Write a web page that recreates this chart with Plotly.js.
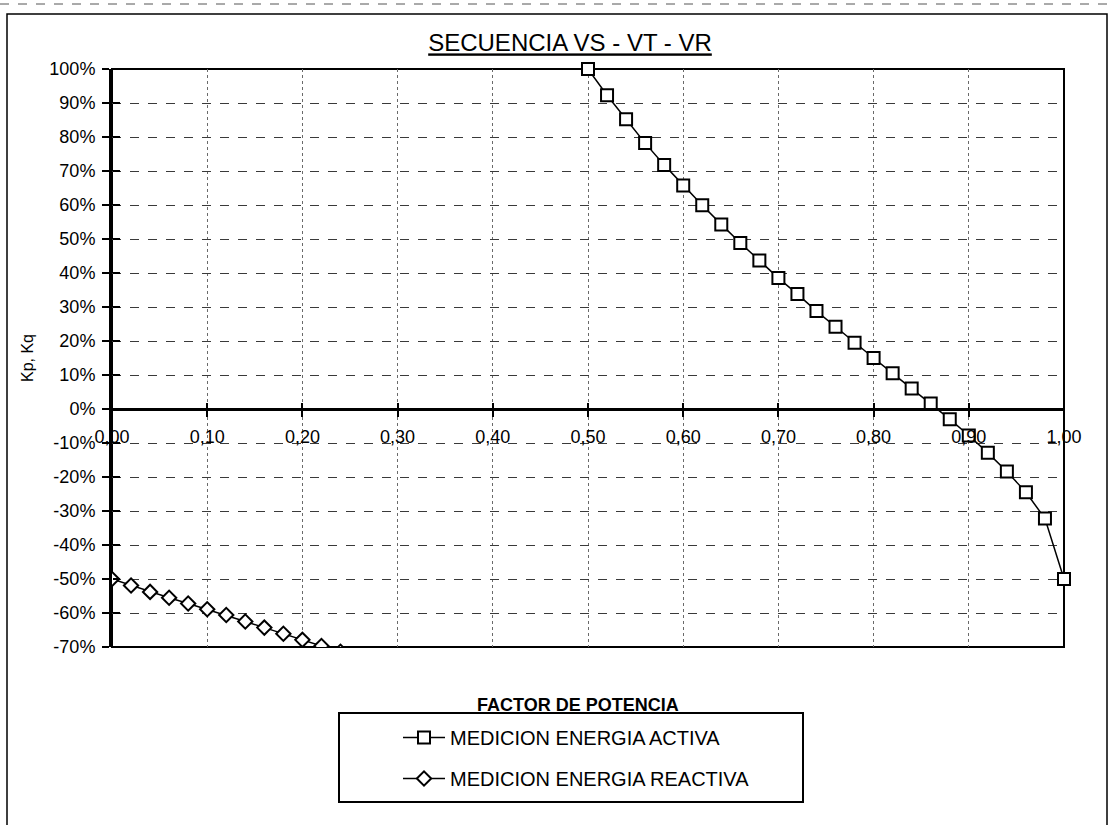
<!DOCTYPE html>
<html>
<head>
<meta charset="utf-8">
<script src="https://cdn.plot.ly/plotly-3.0.1.min.js"></script>
<style>
  html, body { margin: 0; padding: 0; background: #ffffff; }
  #chart { width: 1113px; height: 825px; }
</style>
</head>
<body>
<div id="chart"></div>
<script>
// Factor de potencia y error de medición (%) para cada serie
const pfActiva = [0.50, 0.52, 0.54, 0.56, 0.58, 0.60, 0.62, 0.64, 0.66, 0.68,
                  0.70, 0.72, 0.74, 0.76, 0.78, 0.80, 0.82, 0.84, 0.86, 0.88,
                  0.90, 0.92, 0.94, 0.96, 0.98, 1.00];
const kpActiva = [100.0, 92.3, 85.2, 78.2, 71.8, 65.7, 59.9, 54.3, 48.8, 43.7,
                  38.5, 33.8, 28.8, 24.2, 19.5, 15.0, 10.5, 6.0, 1.6, -3.0,
                  -7.8, -12.9, -18.4, -24.5, -32.2, -50.0];

const pfReactiva = [0.00, 0.02, 0.04, 0.06, 0.08, 0.10, 0.12, 0.14, 0.16, 0.18,
                    0.20, 0.22, 0.24, 0.26];
const kqReactiva = [-50.0, -51.9, -53.8, -55.5, -57.2, -58.9, -60.6, -62.5, -64.3, -66.1,
                    -67.9, -69.7, -71.4, -73.3];

const nombreActiva = 'MEDICION ENERGIA ACTIVA';
const nombreReactiva = 'MEDICION ENERGIA REACTIVA';

// Ejes
const xTickVals = [0.0, 0.1, 0.2, 0.3, 0.4, 0.5, 0.6, 0.7, 0.8, 0.9, 1.0];
const xTickText = ['0,00', '0,10', '0,20', '0,30', '0,40', '0,50', '0,60', '0,70', '0,80', '0,90', '1,00'];
const yTickVals = [-70, -60, -50, -40, -30, -20, -10, 0, 10, 20, 30, 40, 50, 60, 70, 80, 90, 100];
const yTickText = ['-70%', '-60%', '-50%', '-40%', '-30%', '-20%', '-10%', '0%', '10%', '20%',
                   '30%', '40%', '50%', '60%', '70%', '80%', '90%', '100%'];
const xRange = [0, 1];
const yRange = [-70, 100];

const titulo = 'SECUENCIA VS - VT - VR';
const tituloX = 'FACTOR DE POTENCIA';
const tituloY = 'Kp, Kq';

// Geometría de la figura
const W = 1113, H = 825;
const M = { l: 112, r: 49, t: 69, b: 178 };
const px2x = (px) => (px - M.l) / (W - M.l - M.r);
const py2y = (py) => (H - M.b - py) / (H - M.t - M.b);
// el eje X cruza en Kp = 0
const zeroPos = (0 - yRange[0]) / (yRange[1] - yRange[0]);

const FONT = 'Liberation Sans, Arial, Helvetica, sans-serif';

const traces = [
  {
    x: pfActiva, y: kpActiva, name: nombreActiva,
    xaxis: 'x', yaxis: 'y',
    type: 'scatter', mode: 'lines+markers', cliponaxis: false,
    legendgroup: 'activa',
    line: { color: '#000000', width: 1.5 },
    marker: { symbol: 'square', size: 12, color: '#ffffff', line: { color: '#000000', width: 2 } }
  },
  {
    x: pfReactiva, y: kqReactiva, name: nombreReactiva,
    xaxis: 'x2', yaxis: 'y2',
    type: 'scatter', mode: 'lines+markers', cliponaxis: true,
    legendgroup: 'reactiva',
    line: { color: '#000000', width: 1.5 },
    marker: { symbol: 'diamond', size: 11, color: '#ffffff', line: { color: '#000000', width: 2 } }
  }
];

// marcas de división que atraviesan los ejes: mitad exterior en x/y, mitad interior en x2/y2
const tickStyle = { tickcolor: '#000', tickwidth: 2 };

const layout = {
  width: W, height: H,
  margin: M,
  paper_bgcolor: '#ffffff', plot_bgcolor: '#ffffff',
  font: { family: FONT, color: '#000000', size: 18 },
  showlegend: true,
  title: {
    text: '<u>' + titulo + '</u>',
    font: { family: FONT, size: 24, color: '#000000' },
    x: px2x(570), xref: 'paper', xanchor: 'center',
    y: 1 - 43 / H, yref: 'container', yanchor: 'middle'
  },
  xaxis: Object.assign({
    range: xRange, domain: [0, 1], anchor: 'free', position: zeroPos, side: 'bottom',
    tickmode: 'array', tickvals: xTickVals, ticktext: xTickText,
    ticks: 'outside', ticklen: 6,
    showline: true, linecolor: '#000', linewidth: 3,
    showgrid: true, gridcolor: '#6a6a6a', griddash: 'dot', gridwidth: 1,
    zeroline: false, automargin: false,
    tickfont: { family: FONT, size: 18, color: '#000' }, ticklabelstandoff: 4
  }, tickStyle),
  xaxis2: Object.assign({
    range: xRange, overlaying: 'x', anchor: 'free', position: zeroPos, side: 'bottom',
    tickmode: 'array', tickvals: xTickVals,
    ticks: 'inside', ticklen: 6,
    showticklabels: false, showline: false, showgrid: false, zeroline: false, automargin: false
  }, tickStyle),
  yaxis: Object.assign({
    range: yRange, anchor: 'x', domain: [0, 1], side: 'left', position: 0,
    tickmode: 'array', tickvals: yTickVals, ticktext: yTickText,
    ticks: 'outside', ticklen: 7,
    showline: true, linecolor: '#000', linewidth: 3,
    showgrid: true, gridcolor: '#3a3a3a', griddash: 'dash', gridwidth: 1,
    zeroline: true, zerolinecolor: '#000', zerolinewidth: 3,
    automargin: false,
    tickfont: { family: FONT, size: 18, color: '#000' }, ticklabelstandoff: 3,
    title: { text: tituloY, standoff: 12, font: { family: FONT, size: 16, color: '#000' } }
  }, tickStyle),
  yaxis2: Object.assign({
    range: yRange, overlaying: 'y', anchor: 'free', position: 0, side: 'left',
    tickmode: 'array', tickvals: yTickVals,
    ticks: 'inside', ticklen: 7,
    showticklabels: false, showline: false, showgrid: false, zeroline: false, automargin: false
  }, tickStyle),
  legend: {
    x: px2x(398), xanchor: 'left', xref: 'paper',
    y: py2y(718), yanchor: 'top', yref: 'paper',
    bgcolor: 'rgba(0,0,0,0)', borderwidth: 0,
    font: { family: FONT, size: 20, color: '#000' },
    itemwidth: 42,
    traceorder: 'grouped', tracegroupgap: 12
  },
  annotations: [
    { text: '<b>' + tituloX + '</b>', xref: 'paper', yref: 'paper',
      x: px2x(578), y: py2y(705), xanchor: 'center', yanchor: 'middle',
      showarrow: false, font: { family: FONT, size: 18, color: '#000' } }
  ],
  shapes: [
    // borde del área del gráfico
    { type: 'rect', xref: 'paper', yref: 'paper', layer: 'below',
      x0: px2x(7), x1: px2x(1107), y0: py2y(835), y1: py2y(14),
      line: { color: '#000', width: 1.5 }, fillcolor: 'rgba(0,0,0,0)' },
    // borde superior de la hoja
    { type: 'line', xref: 'paper', yref: 'paper', layer: 'below',
      x0: px2x(0), x1: px2x(1113), y0: py2y(4), y1: py2y(4),
      line: { color: '#555', width: 1, dash: 'dash' } },
    // borde del área de trazado
    { type: 'rect', xref: 'paper', yref: 'paper', layer: 'below',
      x0: 0, x1: 1, y0: 0, y1: 1,
      line: { color: '#000', width: 2 }, fillcolor: 'rgba(0,0,0,0)' },
    // recuadro de la leyenda
    { type: 'rect', xref: 'paper', yref: 'paper', layer: 'above',
      x0: px2x(339), x1: px2x(803), y0: py2y(802), y1: py2y(713),
      line: { color: '#000', width: 2 }, fillcolor: '#ffffff' }
  ]
};

Plotly.newPlot('chart', traces, layout, { displayModeBar: false, staticPlot: true });
</script>
</body>
</html>
